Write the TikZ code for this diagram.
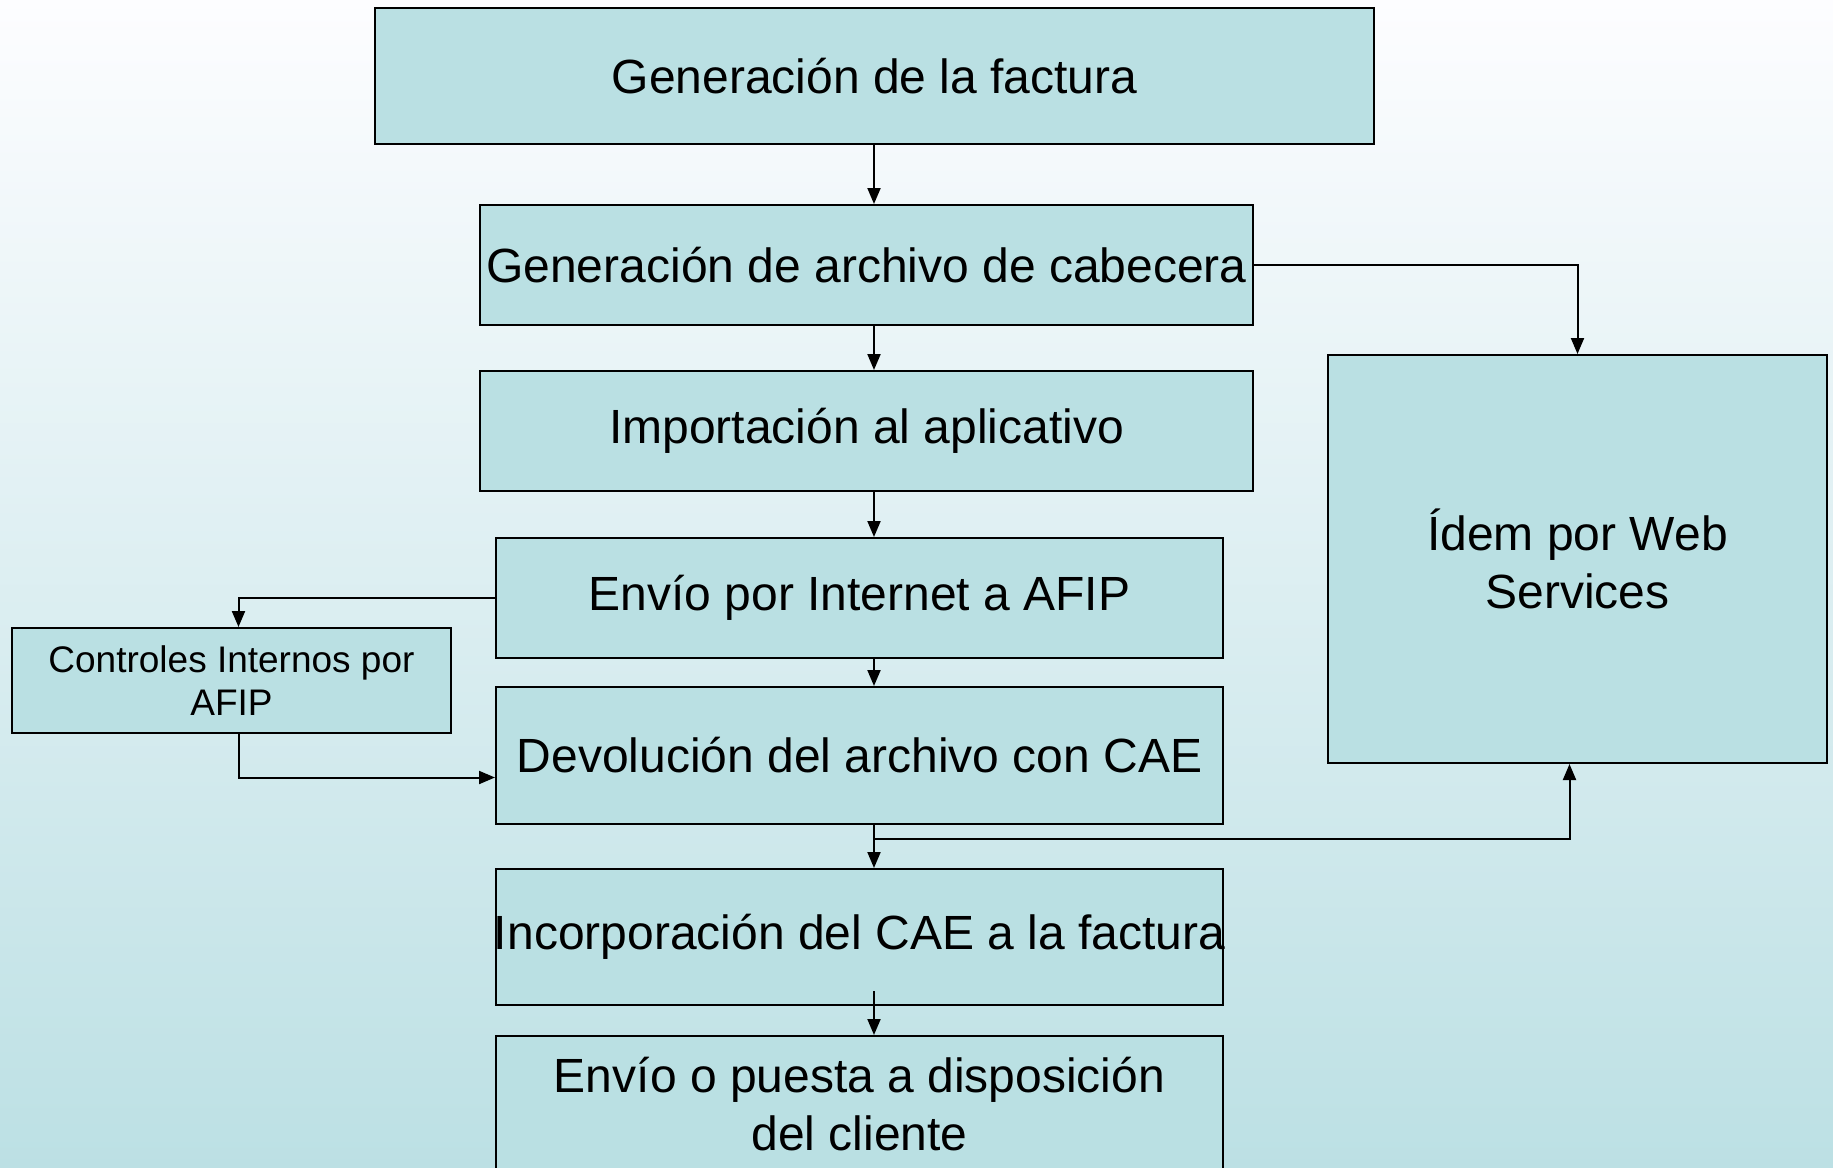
\documentclass[tikz,border=0pt]{standalone}
\usepackage{fontspec}
\setmainfont{Liberation Sans}
\usetikzlibrary{arrows.meta}
\definecolor{cajafill}{RGB}{186,224,227}
\definecolor{fondoarriba}{RGB}{253,253,255}
\definecolor{fondomedio}{RGB}{224,239,242}
\definecolor{fondoabajo}{RGB}{188,224,228}

\begin{document}
\begin{tikzpicture}[x=0.5pt, y=-0.5pt,
  paso/.style={draw=black, line width=1pt, fill=cajafill, inner sep=0pt,
    align=center, font=\fontsize{24}{29}\selectfont},
  flecha/.style={line width=1pt, -{Triangle[length=8pt,width=6.5pt]}}]
\useasboundingbox (0,0) rectangle (1833,1168);
\shade[top color=fondoarriba, middle color=fondomedio, bottom color=fondoabajo] (0,0) rectangle (1833,1168);

\node[paso, minimum width=499.5pt, minimum height=68pt] (fact) at (874.5,76) {Generación de la factura};
\node[paso, minimum width=386.5pt, minimum height=60pt] (cab) at (866.5,265) {Generación de archivo de cabecera};
\node[paso, minimum width=386.5pt, minimum height=60pt] (imp) at (866.5,431) {Importación al aplicativo};
\node[paso, minimum width=363.5pt, minimum height=60pt] (env) at (859.5,598) {Envío por Internet a AFIP};
\node[paso, minimum width=363.5pt, minimum height=68.5pt] (dev) at (859.5,755.5) {Devolución del archivo con CAE};
\node[paso, minimum width=363.5pt, minimum height=68pt] (inc) at (859.5,937) {\makebox[363.5pt]{Incorporación del CAE a la factura}};
\node[paso, minimum width=363.5pt, minimum height=68pt] (pue) at (859.5,1104) {Envío o puesta a disposición\\del cliente};
\node[paso, minimum width=219.5pt, minimum height=52.5pt, font=\fontsize{18.5}{21.5}\selectfont] (ctl) at (231.5,680.5) {Controles Internos por\\AFIP};
\node[paso, minimum width=249.5pt, minimum height=204pt] (idem) at (1577.5,559) {Ídem por Web\\Services};

% eje de las flechas centrales
\coordinate (eje) at (874,0);
\path (eje |- inc.south) ++(0,-15) coordinate (incsal);
\path (eje |- dev.south) ++(0,14) coordinate (rama);

\draw[flecha] (eje |- fact.south) -- (eje |- cab.north);
\draw[flecha] (eje |- cab.south) -- (eje |- imp.north);
\draw[flecha] (eje |- imp.south) -- (eje |- env.north);
\draw[flecha] (eje |- env.south) -- (eje |- dev.north);
\draw[flecha] (eje |- dev.south) -- (eje |- inc.north);
\draw[flecha] (incsal) -- (eje |- pue.north);

\draw[flecha] (cab.east) -| (idem.north);
\draw[flecha] (env.west) -| ([xshift=3.5pt]ctl.north);
\draw[flecha] ([xshift=3.5pt]ctl.south) |- ([yshift=-11pt]dev.west);
\draw[flecha] (rama) -| ([xshift=-4pt]idem.south);

\end{tikzpicture}
\end{document}
